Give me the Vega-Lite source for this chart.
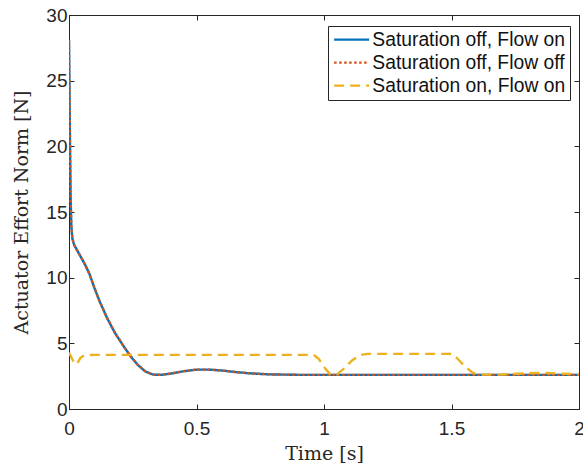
{
  "$schema": "https://vega.github.io/schema/vega-lite/v6.json",
  "autosize": "none",
  "width": 510,
  "height": 394,
  "padding": {"left": 69, "top": 15, "right": 4, "bottom": 61},
  "background": "white",
  "config": {
    "view": {"stroke": "#262626", "strokeWidth": 1},
    "axis": {
      "domainColor": "#262626",
      "tickColor": "#262626",
      "labelColor": "#262626",
      "labelFont": "Liberation Sans",
      "labelFontSize": 19,
      "titleFont": "DejaVu Serif",
      "titleFontSize": 19,
      "titleFontWeight": "normal",
      "titleColor": "#262626",
      "grid": false,
      "tickSize": -5,
      "domainWidth": 1,
      "tickWidth": 1
    }
  },
  "data": {"values": [
    {"t": 0, "v": 28.1, "s": "Saturation off, Flow on"},
    {"t": 0.002, "v": 24, "s": "Saturation off, Flow on"},
    {"t": 0.004, "v": 20, "s": "Saturation off, Flow on"},
    {"t": 0.006, "v": 16.5, "s": "Saturation off, Flow on"},
    {"t": 0.009, "v": 14, "s": "Saturation off, Flow on"},
    {"t": 0.013, "v": 13.0, "s": "Saturation off, Flow on"},
    {"t": 0.02, "v": 12.5, "s": "Saturation off, Flow on"},
    {"t": 0.04, "v": 11.8, "s": "Saturation off, Flow on"},
    {"t": 0.06, "v": 11.1, "s": "Saturation off, Flow on"},
    {"t": 0.08, "v": 10.3, "s": "Saturation off, Flow on"},
    {"t": 0.1, "v": 9.2, "s": "Saturation off, Flow on"},
    {"t": 0.12, "v": 8.2, "s": "Saturation off, Flow on"},
    {"t": 0.15, "v": 6.9, "s": "Saturation off, Flow on"},
    {"t": 0.18, "v": 5.8, "s": "Saturation off, Flow on"},
    {"t": 0.21, "v": 4.9, "s": "Saturation off, Flow on"},
    {"t": 0.24, "v": 4.05, "s": "Saturation off, Flow on"},
    {"t": 0.27, "v": 3.35, "s": "Saturation off, Flow on"},
    {"t": 0.3, "v": 2.85, "s": "Saturation off, Flow on"},
    {"t": 0.33, "v": 2.62, "s": "Saturation off, Flow on"},
    {"t": 0.36, "v": 2.6, "s": "Saturation off, Flow on"},
    {"t": 0.4, "v": 2.7, "s": "Saturation off, Flow on"},
    {"t": 0.45, "v": 2.88, "s": "Saturation off, Flow on"},
    {"t": 0.5, "v": 3.0, "s": "Saturation off, Flow on"},
    {"t": 0.55, "v": 3.0, "s": "Saturation off, Flow on"},
    {"t": 0.6, "v": 2.93, "s": "Saturation off, Flow on"},
    {"t": 0.65, "v": 2.82, "s": "Saturation off, Flow on"},
    {"t": 0.7, "v": 2.73, "s": "Saturation off, Flow on"},
    {"t": 0.75, "v": 2.67, "s": "Saturation off, Flow on"},
    {"t": 0.8, "v": 2.63, "s": "Saturation off, Flow on"},
    {"t": 0.9, "v": 2.6, "s": "Saturation off, Flow on"},
    {"t": 1.0, "v": 2.6, "s": "Saturation off, Flow on"},
    {"t": 2.0, "v": 2.6, "s": "Saturation off, Flow on"},
    {"t": 0, "v": 28.1, "s": "Saturation off, Flow off"},
    {"t": 0.002, "v": 24, "s": "Saturation off, Flow off"},
    {"t": 0.004, "v": 20, "s": "Saturation off, Flow off"},
    {"t": 0.006, "v": 16.5, "s": "Saturation off, Flow off"},
    {"t": 0.009, "v": 14, "s": "Saturation off, Flow off"},
    {"t": 0.013, "v": 13.0, "s": "Saturation off, Flow off"},
    {"t": 0.02, "v": 12.5, "s": "Saturation off, Flow off"},
    {"t": 0.04, "v": 11.8, "s": "Saturation off, Flow off"},
    {"t": 0.06, "v": 11.1, "s": "Saturation off, Flow off"},
    {"t": 0.08, "v": 10.3, "s": "Saturation off, Flow off"},
    {"t": 0.1, "v": 9.2, "s": "Saturation off, Flow off"},
    {"t": 0.12, "v": 8.2, "s": "Saturation off, Flow off"},
    {"t": 0.15, "v": 6.9, "s": "Saturation off, Flow off"},
    {"t": 0.18, "v": 5.8, "s": "Saturation off, Flow off"},
    {"t": 0.21, "v": 4.9, "s": "Saturation off, Flow off"},
    {"t": 0.24, "v": 4.05, "s": "Saturation off, Flow off"},
    {"t": 0.27, "v": 3.35, "s": "Saturation off, Flow off"},
    {"t": 0.3, "v": 2.85, "s": "Saturation off, Flow off"},
    {"t": 0.33, "v": 2.62, "s": "Saturation off, Flow off"},
    {"t": 0.36, "v": 2.6, "s": "Saturation off, Flow off"},
    {"t": 0.4, "v": 2.7, "s": "Saturation off, Flow off"},
    {"t": 0.45, "v": 2.88, "s": "Saturation off, Flow off"},
    {"t": 0.5, "v": 3.0, "s": "Saturation off, Flow off"},
    {"t": 0.55, "v": 3.0, "s": "Saturation off, Flow off"},
    {"t": 0.6, "v": 2.93, "s": "Saturation off, Flow off"},
    {"t": 0.65, "v": 2.82, "s": "Saturation off, Flow off"},
    {"t": 0.7, "v": 2.73, "s": "Saturation off, Flow off"},
    {"t": 0.75, "v": 2.67, "s": "Saturation off, Flow off"},
    {"t": 0.8, "v": 2.63, "s": "Saturation off, Flow off"},
    {"t": 0.9, "v": 2.6, "s": "Saturation off, Flow off"},
    {"t": 1.0, "v": 2.6, "s": "Saturation off, Flow off"},
    {"t": 2.0, "v": 2.6, "s": "Saturation off, Flow off"},
    {"t": 0, "v": 4.3, "s": "Saturation on, Flow on"},
    {"t": 0.015, "v": 3.7, "s": "Saturation on, Flow on"},
    {"t": 0.03, "v": 3.4, "s": "Saturation on, Flow on"},
    {"t": 0.045, "v": 3.9, "s": "Saturation on, Flow on"},
    {"t": 0.06, "v": 4.1, "s": "Saturation on, Flow on"},
    {"t": 0.1, "v": 4.12, "s": "Saturation on, Flow on"},
    {"t": 0.96, "v": 4.12, "s": "Saturation on, Flow on"},
    {"t": 0.98, "v": 3.8, "s": "Saturation on, Flow on"},
    {"t": 1.0, "v": 3.2, "s": "Saturation on, Flow on"},
    {"t": 1.025, "v": 2.62, "s": "Saturation on, Flow on"},
    {"t": 1.05, "v": 2.62, "s": "Saturation on, Flow on"},
    {"t": 1.08, "v": 3.1, "s": "Saturation on, Flow on"},
    {"t": 1.11, "v": 3.7, "s": "Saturation on, Flow on"},
    {"t": 1.14, "v": 4.1, "s": "Saturation on, Flow on"},
    {"t": 1.17, "v": 4.2, "s": "Saturation on, Flow on"},
    {"t": 1.5, "v": 4.2, "s": "Saturation on, Flow on"},
    {"t": 1.52, "v": 3.9, "s": "Saturation on, Flow on"},
    {"t": 1.55, "v": 3.3, "s": "Saturation on, Flow on"},
    {"t": 1.58, "v": 2.8, "s": "Saturation on, Flow on"},
    {"t": 1.6, "v": 2.62, "s": "Saturation on, Flow on"},
    {"t": 1.7, "v": 2.62, "s": "Saturation on, Flow on"},
    {"t": 1.78, "v": 2.7, "s": "Saturation on, Flow on"},
    {"t": 1.85, "v": 2.75, "s": "Saturation on, Flow on"},
    {"t": 1.92, "v": 2.7, "s": "Saturation on, Flow on"},
    {"t": 2.0, "v": 2.65, "s": "Saturation on, Flow on"}
  ]},
  "layer": [
    {
      "mark": {"type": "line", "strokeWidth": 2.4, "strokeCap": "butt", "clip": true},
      "encoding": {
        "x": {"field": "t", "type": "quantitative", "scale": {"domain": [0, 2], "nice": false},
              "axis": {"values": [0, 0.5, 1, 1.5, 2], "format": "~g", "title": "Time [s]", "labelPadding": 15, "titlePadding": 6, "labelFlush": false}},
        "y": {"field": "v", "type": "quantitative", "scale": {"domain": [0, 30], "nice": false},
              "axis": {"values": [0, 5, 10, 15, 20, 25, 30], "title": "Actuator Effort Norm [N]", "labelPadding": 7, "titlePadding": 14, "labelFlush": false}},
        "color": {"field": "s", "type": "nominal",
          "scale": {"domain": ["Saturation off, Flow on", "Saturation off, Flow off", "Saturation on, Flow on"], "range": ["#0072BD", "#D95319", "#EDB120"]},
          "legend": {"title": null, "orient": "none", "legendX": 259, "legendY": 11,
            "fillColor": "white", "strokeColor": "#262626", "padding": 4,
            "labelFont": "Liberation Sans", "labelFontSize": 19.3, "labelColor": "#111111", "labelLimit": 400,
            "symbolType": "M-3.5,0H3.5", "symbolSize": 100, "symbolOffset": 10, "symbolStrokeWidth": 2.4, "rowPadding": 3, "labelOffset": 11}},
        "strokeDash": {"field": "s", "type": "nominal",
          "scale": {"domain": ["Saturation off, Flow on", "Saturation off, Flow off", "Saturation on, Flow on"], "range": [[1, 0], [2.5, 2.5], [10, 6]]},
          "legend": {"title": null}}
      }
    },
    {
      "mark": {"type": "point", "opacity": 0},
      "encoding": {
        "x": {"field": "t", "type": "quantitative", "axis": {"orient": "top", "values": [0, 0.5, 1, 1.5, 2], "labels": false, "title": null}},
        "y": {"field": "v", "type": "quantitative", "axis": {"orient": "right", "values": [0, 5, 10, 15, 20, 25, 30], "labels": false, "title": null}}
      }
    }
  ],
  "resolve": {"axis": {"x": "independent", "y": "independent"}}
}
